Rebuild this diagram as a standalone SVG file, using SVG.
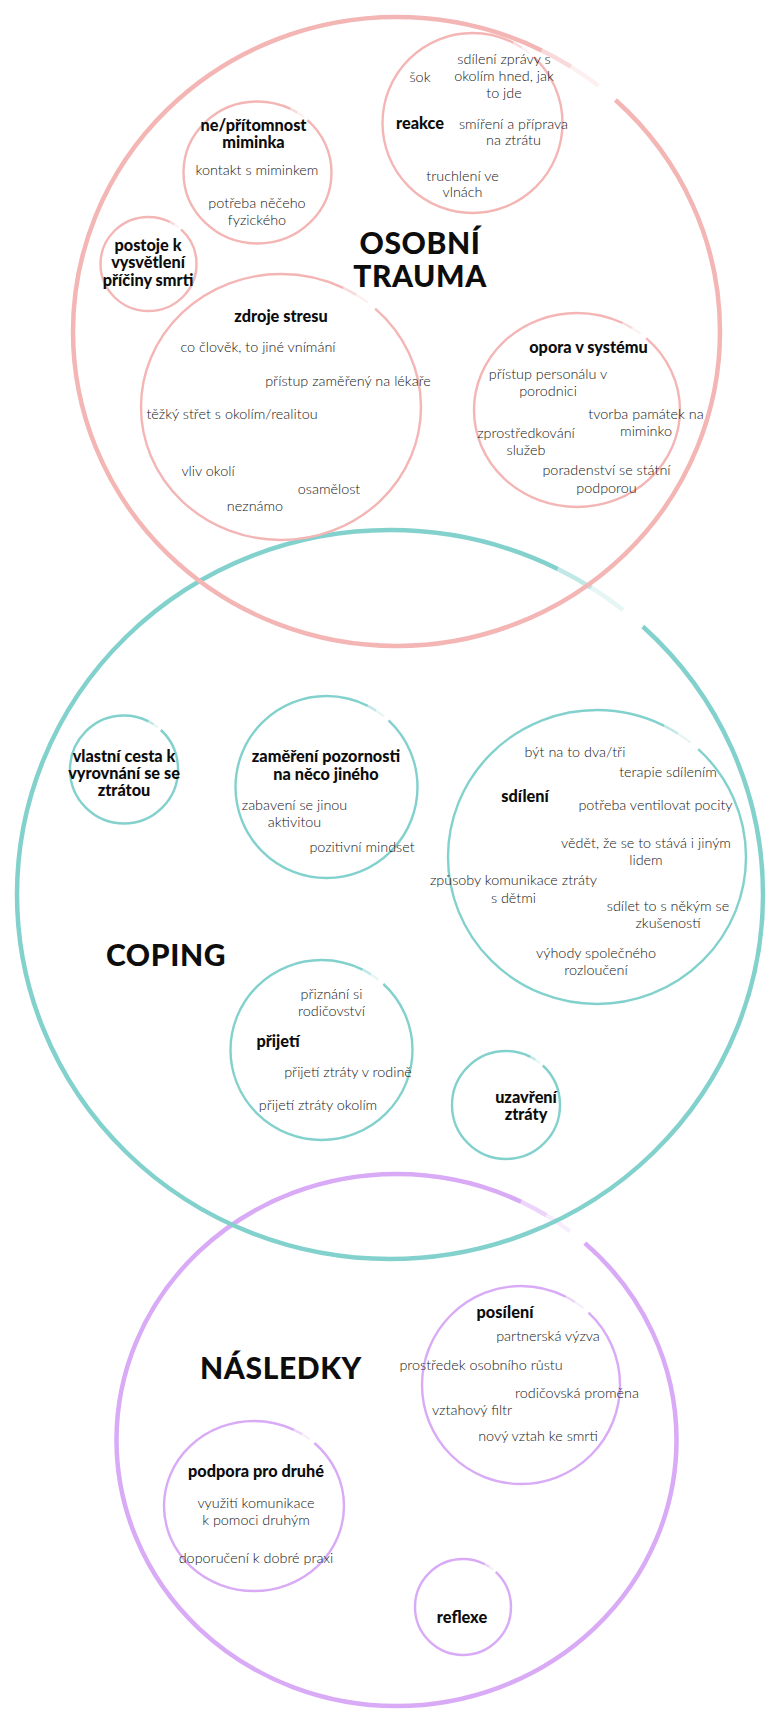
<svg xmlns="http://www.w3.org/2000/svg" width="767" height="1709" viewBox="0 0 767 1709">
<style>
.ring{fill:none;stroke-dasharray:297 16 47;stroke-linecap:butt}
.fade{fill:none;stroke-dasharray:0 297 6 57;opacity:.5}
.fade2{fill:none;stroke-dasharray:0 303 6 51;opacity:.2}
.big{stroke-width:4.5}
.sm{stroke-width:2.4}
.pk{stroke:#f3b6b5}
.tl{stroke:#82d1cd}
.pu{stroke:#d9aaf6}
text{font-family:Lato,"Open Sans","Liberation Sans",sans-serif;text-anchor:middle}
.t{font-weight:300;font-size:14.4px;fill:#151515}
.b{font-weight:900;font-size:16.3px;fill:#0d0d0d}
.h{font-weight:900;font-size:30px;letter-spacing:.6px;fill:#0d0d0d}
</style>
<rect width="767" height="1709" fill="#fff"/>
<g id="connectors"/>

<g id="nasledky">
<g id="nasledky-ring">
<ellipse class="ring big pu" pathLength="360" cx="396.5" cy="1440" rx="280" ry="266"/>
<ellipse class="fade big pu" pathLength="360" cx="396.5" cy="1440" rx="280" ry="266"/>
<ellipse class="fade2 big pu" pathLength="360" cx="396.5" cy="1440" rx="280" ry="266"/>
<text class="h" x="281" y="1378.5" letter-spacing="1.5">NÁSLEDKY</text>
</g>
<g id="posileni">
<ellipse class="ring sm pu" pathLength="360" cx="521" cy="1385" rx="99" ry="99"/>
<ellipse class="fade sm pu" pathLength="360" cx="521" cy="1385" rx="99" ry="99"/>
<ellipse class="fade2 sm pu" pathLength="360" cx="521" cy="1385" rx="99" ry="99"/>
<text class="b" x="505" y="1317.8">posílení</text>
<text class="t" x="548" y="1340.5">partnerská výzva</text>
<text class="t" x="481" y="1370">prostředek osobního růstu</text>
<text class="t" x="577" y="1397.5">rodičovská proměna</text>
<text class="t" x="472" y="1414.5">vztahový filtr</text>
<text class="t" x="538" y="1441">nový vztah ke smrti</text>
</g>
<g id="podpora">
<ellipse class="ring sm pu" pathLength="360" cx="254" cy="1506" rx="90" ry="85"/>
<ellipse class="fade sm pu" pathLength="360" cx="254" cy="1506" rx="90" ry="85"/>
<ellipse class="fade2 sm pu" pathLength="360" cx="254" cy="1506" rx="90" ry="85"/>
<text class="b" x="256" y="1476.8">podpora pro druhé</text>
<text class="t" x="256" y="1508">využití komunikace</text>
<text class="t" x="256" y="1525">k pomoci druhým</text>
<text class="t" x="256" y="1563">doporučení k dobré praxi</text>
</g>
<g id="reflexe">
<ellipse class="ring sm pu" pathLength="360" cx="463" cy="1607" rx="48" ry="48"/>
<ellipse class="fade sm pu" pathLength="360" cx="463" cy="1607" rx="48" ry="48"/>
<ellipse class="fade2 sm pu" pathLength="360" cx="463" cy="1607" rx="48" ry="48"/>
<text class="b" x="462" y="1623.3">reflexe</text>
</g>
</g>

<g id="coping">
<g id="coping-ring">
<ellipse class="ring big tl" pathLength="360" cx="390" cy="894.5" rx="373" ry="364.5"/>
<ellipse class="fade big tl" pathLength="360" cx="390" cy="894.5" rx="373" ry="364.5"/>
<ellipse class="fade2 big tl" pathLength="360" cx="390" cy="894.5" rx="373" ry="364.5"/>
<text class="h" x="166" y="965.5">COPING</text>
</g>
<g id="vlastni-cesta">
<ellipse class="ring sm tl" pathLength="360" cx="124" cy="769.5" rx="54" ry="54"/>
<ellipse class="fade sm tl" pathLength="360" cx="124" cy="769.5" rx="54" ry="54"/>
<ellipse class="fade2 sm tl" pathLength="360" cx="124" cy="769.5" rx="54" ry="54"/>
<text class="b" x="124" y="761.8">vlastní cesta k</text>
<text class="b" x="124" y="778.8">vyrovnání se se</text>
<text class="b" x="124" y="795.8">ztrátou</text>
</g>
<g id="zamereni">
<ellipse class="ring sm tl" pathLength="360" cx="326.5" cy="787" rx="91" ry="91"/>
<ellipse class="fade sm tl" pathLength="360" cx="326.5" cy="787" rx="91" ry="91"/>
<ellipse class="fade2 sm tl" pathLength="360" cx="326.5" cy="787" rx="91" ry="91"/>
<text class="b" x="326" y="762.3">zaměření pozornosti</text>
<text class="b" x="326" y="780.3">na něco jiného</text>
<text class="t" x="294.5" y="810">zabavení se jinou</text>
<text class="t" x="294.5" y="827">aktivitou</text>
<text class="t" x="362" y="851.5">pozitivní mindset</text>
</g>
<g id="sdileni">
<ellipse class="ring sm tl" pathLength="360" cx="597" cy="857" rx="149" ry="147"/>
<ellipse class="fade sm tl" pathLength="360" cx="597" cy="857" rx="149" ry="147"/>
<ellipse class="fade2 sm tl" pathLength="360" cx="597" cy="857" rx="149" ry="147"/>
<text class="t" x="575" y="756.5">být na to dva/tři</text>
<text class="t" x="668" y="777">terapie sdílením</text>
<text class="b" x="525" y="802.3">sdílení</text>
<text class="t" x="655.5" y="810">potřeba ventilovat pocity</text>
<text class="t" x="646" y="848">vědět, že se to stává i jiným</text>
<text class="t" x="646" y="865">lidem</text>
<text class="t" x="513.5" y="885">způsoby komunikace ztráty</text>
<text class="t" x="513.5" y="902.5">s dětmi</text>
<text class="t" x="668" y="911">sdílet to s někým se</text>
<text class="t" x="668" y="928">zkušeností</text>
<text class="t" x="596" y="957.5">výhody společného</text>
<text class="t" x="596" y="975">rozloučení</text>
</g>
<g id="prijeti">
<ellipse class="ring sm tl" pathLength="360" cx="321.5" cy="1050" rx="91" ry="90"/>
<ellipse class="fade sm tl" pathLength="360" cx="321.5" cy="1050" rx="91" ry="90"/>
<ellipse class="fade2 sm tl" pathLength="360" cx="321.5" cy="1050" rx="91" ry="90"/>
<text class="t" x="331.5" y="998.5">přiznání si</text>
<text class="t" x="331.5" y="1015.5">rodičovství</text>
<text class="b" x="278" y="1047.3">přijetí</text>
<text class="t" x="348" y="1077">přijetí ztráty v rodině</text>
<text class="t" x="318" y="1109.5">přijetí ztráty okolím</text>
</g>
<g id="uzavreni">
<ellipse class="ring sm tl" pathLength="360" cx="506" cy="1105" rx="54" ry="54"/>
<ellipse class="fade sm tl" pathLength="360" cx="506" cy="1105" rx="54" ry="54"/>
<ellipse class="fade2 sm tl" pathLength="360" cx="506" cy="1105" rx="54" ry="54"/>
<text class="b" x="526" y="1102.8">uzavření</text>
<text class="b" x="526" y="1119.8">ztráty</text>
</g>
</g>

<g id="osobni-trauma">
<g id="trauma-ring">
<ellipse class="ring big pk" pathLength="360" cx="396.5" cy="331.5" rx="323.5" ry="314.5"/>
<ellipse class="fade big pk" pathLength="360" cx="396.5" cy="331.5" rx="323.5" ry="314.5"/>
<ellipse class="fade2 big pk" pathLength="360" cx="396.5" cy="331.5" rx="323.5" ry="314.5"/>
<text class="h" x="420" y="254">OSOBNÍ</text>
<text class="h" x="420" y="287">TRAUMA</text>
</g>
<g id="reakce">
<ellipse class="ring sm pk" pathLength="360" cx="472.5" cy="123" rx="90" ry="90"/>
<ellipse class="fade sm pk" pathLength="360" cx="472.5" cy="123" rx="90" ry="90"/>
<ellipse class="fade2 sm pk" pathLength="360" cx="472.5" cy="123" rx="90" ry="90"/>
<text class="t" x="504" y="63.5">sdílení zprávy s</text>
<text class="t" x="504" y="81">okolím hned, jak</text>
<text class="t" x="504" y="98">to jde</text>
<text class="t" x="420" y="81.5">šok</text>
<text class="b" x="420" y="128.8">reakce</text>
<text class="t" x="513.5" y="129">smíření a příprava</text>
<text class="t" x="513.5" y="145">na ztrátu</text>
<text class="t" x="462.5" y="180.5">truchlení ve</text>
<text class="t" x="462.5" y="197">vlnách</text>
</g>
<g id="pritomnost">
<ellipse class="ring sm pk" pathLength="360" cx="257.5" cy="172.5" rx="74" ry="71"/>
<ellipse class="fade sm pk" pathLength="360" cx="257.5" cy="172.5" rx="74" ry="71"/>
<ellipse class="fade2 sm pk" pathLength="360" cx="257.5" cy="172.5" rx="74" ry="71"/>
<text class="b" x="253.5" y="130.8">ne/přítomnost</text>
<text class="b" x="253.5" y="147.8">miminka</text>
<text class="t" x="257" y="175">kontakt s miminkem</text>
<text class="t" x="257" y="207.5">potřeba něčeho</text>
<text class="t" x="257" y="224.5">fyzického</text>
</g>
<g id="postoje">
<ellipse class="ring sm pk" pathLength="360" cx="148.5" cy="264" rx="48" ry="47"/>
<ellipse class="fade sm pk" pathLength="360" cx="148.5" cy="264" rx="48" ry="47"/>
<ellipse class="fade2 sm pk" pathLength="360" cx="148.5" cy="264" rx="48" ry="47"/>
<text class="b" x="148" y="251.3">postoje k</text>
<text class="b" x="148" y="268.3">vysvětlení</text>
<text class="b" x="148" y="285.8">příčiny smrti</text>
</g>
<g id="zdroje-stresu">
<ellipse class="ring sm pk" pathLength="360" cx="281" cy="407" rx="140" ry="133"/>
<ellipse class="fade sm pk" pathLength="360" cx="281" cy="407" rx="140" ry="133"/>
<ellipse class="fade2 sm pk" pathLength="360" cx="281" cy="407" rx="140" ry="133"/>
<text class="b" x="281" y="322.3">zdroje stresu</text>
<text class="t" x="258" y="352">co člověk, to jiné vnímání</text>
<text class="t" x="348" y="386">přístup zaměřený na lékaře</text>
<text class="t" x="232" y="419">těžký střet s okolím/realitou</text>
<text class="t" x="208" y="475.5">vliv okolí</text>
<text class="t" x="329" y="494">osamělost</text>
<text class="t" x="255" y="511">neznámo</text>
</g>
<g id="opora">
<ellipse class="ring sm pk" pathLength="360" cx="577" cy="410" rx="103" ry="97"/>
<ellipse class="fade sm pk" pathLength="360" cx="577" cy="410" rx="103" ry="97"/>
<ellipse class="fade2 sm pk" pathLength="360" cx="577" cy="410" rx="103" ry="97"/>
<text class="b" x="588.5" y="352.8">opora v systému</text>
<text class="t" x="548" y="379">přístup personálu v</text>
<text class="t" x="548" y="396">porodnici</text>
<text class="t" x="646" y="418.5">tvorba památek na</text>
<text class="t" x="646" y="436">miminko</text>
<text class="t" x="526" y="438">zprostředkování</text>
<text class="t" x="526" y="455">služeb</text>
<text class="t" x="606.5" y="474.5">poradenství se státní</text>
<text class="t" x="606.5" y="492.5">podporou</text>
</g>
</g>
</svg>
